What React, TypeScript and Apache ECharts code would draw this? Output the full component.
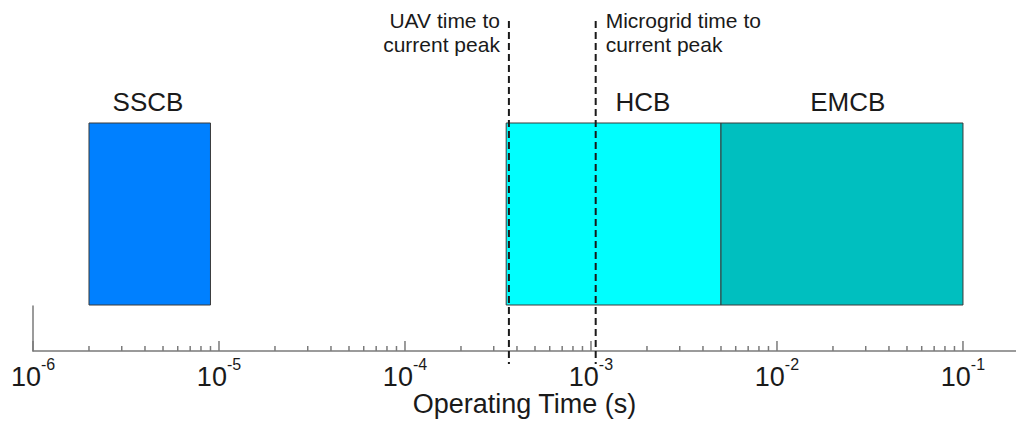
import React, { useEffect, useRef } from "react";
import * as echarts from "echarts";

// ---- data ----
const BREAKERS = ["SSCB", "HCB", "EMCB"];
const BREAKER_START = [2e-6, 3.5e-4, 5e-3]; // s
const BREAKER_END = [9e-6, 5e-3, 1e-1]; // s
const BREAKER_LABEL_AT = [4.15e-6, 1.9e-3, 2.4e-2]; // s, where each name sits

const PEAK_NAMES = ["UAV time to\ncurrent peak", "Microgrid time to\ncurrent peak"];
const PEAK_TIMES = [3.62e-4, 1.06e-3]; // s

const DECADES = [1e-6, 1e-5, 1e-4, 1e-3, 1e-2, 1e-1];
const MINOR_MULTIPLIERS = [2, 3, 4, 5, 6, 7, 8, 9];
const AXIS_MIN = 1e-6;
const AXIS_MAX = 0.1928;
const AXIS_NAME = "Operating Time (s)";

// ---- styles ----
const BAR_COLORS = ["#0080FF", "#00FFFF", "#00BFBF"];
const PEAK_ALIGN = ["right", "left"];
const FONT = "'Liberation Sans', Arial, Helvetica, sans-serif";
const TEXT_COLOR = "#1a1a1a";
const AXIS_COLOR = "#7a7a7a";
const BAR_TOP = 123;
const BAR_BOTTOM = 305;
const PEAK_TOP = 21;
const PEAK_BOTTOM = 364;

const MINOR_TICKS: number[] = [];
DECADES.slice(0, DECADES.length - 1).forEach((d) =>
  MINOR_MULTIPLIERS.forEach((m) => MINOR_TICKS.push(d * m))
);

export default function App() {
  const ref = useRef<HTMLDivElement>(null);

  useEffect(() => {
    if (!ref.current) return;
    const chart = echarts.init(ref.current, undefined, { renderer: "svg" });

    const tickData = [
      ...DECADES.map((v) => [v, 0, 1]),
      ...MINOR_TICKS.map((v) => [v, 0, 0]),
    ];
    const barData = BREAKERS.map((_, i) => [
      BREAKER_START[i],
      BREAKER_END[i],
      BREAKER_LABEL_AT[i],
      0,
    ]);
    const peakData = PEAK_TIMES.map((t) => [t, 0]);

    chart.setOption({
      animation: false,
      backgroundColor: "#ffffff",
      grid: {
        left: 33,
        right: 0,
        top: 306,
        bottom: 78,
        containLabel: false,
        outerBoundsMode: "none",
      },
      xAxis: {
        type: "log",
        logBase: 10,
        min: AXIS_MIN,
        max: AXIS_MAX,
        name: AXIS_NAME,
        nameLocation: "middle",
        nameGap: 29,
        nameTextStyle: { fontSize: 27, color: TEXT_COLOR, fontFamily: FONT },
        axisLine: { show: true, lineStyle: { color: AXIS_COLOR, width: 1.5 } },
        axisTick: { show: false },
        minorTick: { show: false },
        splitLine: { show: false },
        axisLabel: {
          margin: 5,
          color: TEXT_COLOR,
          fontFamily: FONT,
          formatter: (v: number) => {
            const l = Math.log10(v);
            const e = Math.round(l);
            if (Math.abs(l - e) > 1e-6) return "";
            return `{b|10}{s|${e}}`;
          },
          rich: {
            b: { fontSize: 27, lineHeight: 34, verticalAlign: "bottom", fontFamily: FONT, color: TEXT_COLOR },
            s: { fontSize: 16, lineHeight: 16, verticalAlign: "top", fontFamily: FONT, color: TEXT_COLOR },
          },
        },
      },
      yAxis: {
        type: "value",
        min: 0,
        max: 1,
        axisLine: { show: true, lineStyle: { color: AXIS_COLOR, width: 1.5 } },
        axisTick: { show: false },
        axisLabel: { show: false },
        splitLine: { show: false },
      },
      series: [
        {
          type: "custom",
          name: "breakers",
          z: 2,
          clip: false,
          encode: { x: [0, 1, 2], y: 3 },
          data: barData,
          renderItem: (params: any, api: any) => {
            const i = params.dataIndex;
            const x0 = api.coord([api.value(0), 0])[0];
            const x1 = api.coord([api.value(1), 0])[0];
            const xl = api.coord([api.value(2), 0])[0];
            return {
              type: "group",
              children: [
                {
                  type: "rect",
                  shape: { x: x0, y: BAR_TOP, width: x1 - x0, height: BAR_BOTTOM - BAR_TOP },
                  style: { fill: BAR_COLORS[i], stroke: "#3a3a3a", lineWidth: 1 },
                },
                {
                  type: "text",
                  x: xl,
                  y: 102,
                  style: {
                    text: BREAKERS[i],
                    fill: TEXT_COLOR,
                    fontSize: 26,
                    fontFamily: FONT,
                    align: "center",
                    verticalAlign: "middle",
                  },
                },
              ],
            };
          },
        },
        {
          type: "custom",
          name: "ticks",
          z: 3,
          clip: false,
          encode: { x: 0, y: 1 },
          data: tickData,
          renderItem: (params: any, api: any) => {
            const p = api.coord([api.value(0), 0]);
            const len = api.value(2) ? 10 : 5;
            return {
              type: "line",
              shape: { x1: p[0], y1: p[1], x2: p[0], y2: p[1] - len },
              style: { stroke: AXIS_COLOR, lineWidth: 1.5 },
            };
          },
        },
        {
          type: "custom",
          name: "peaks",
          z: 5,
          clip: false,
          encode: { x: 0, y: 1 },
          data: peakData,
          renderItem: (params: any, api: any) => {
            const i = params.dataIndex;
            const x = api.coord([api.value(0), 0])[0];
            const right = PEAK_ALIGN[i] === "right";
            return {
              type: "group",
              children: [
                {
                  type: "line",
                  shape: { x1: x, y1: PEAK_TOP, x2: x, y2: PEAK_BOTTOM },
                  style: { stroke: "#1a1a1a", lineWidth: 2, lineDash: [7, 4] },
                },
                {
                  type: "text",
                  x: right ? x - 9 : x + 10,
                  y: 8,
                  style: {
                    text: PEAK_NAMES[i],
                    fill: TEXT_COLOR,
                    fontSize: 21,
                    lineHeight: 24,
                    fontFamily: FONT,
                    align: right ? "right" : "left",
                    verticalAlign: "top",
                  },
                },
              ],
            };
          },
        },
      ],
    });

    return () => chart.dispose();
  }, []);

  return (
    <div
      ref={ref}
      style={{ position: "fixed", left: 0, top: 0, width: 1016, height: 429, background: "#fff" }}
    />
  );
}
